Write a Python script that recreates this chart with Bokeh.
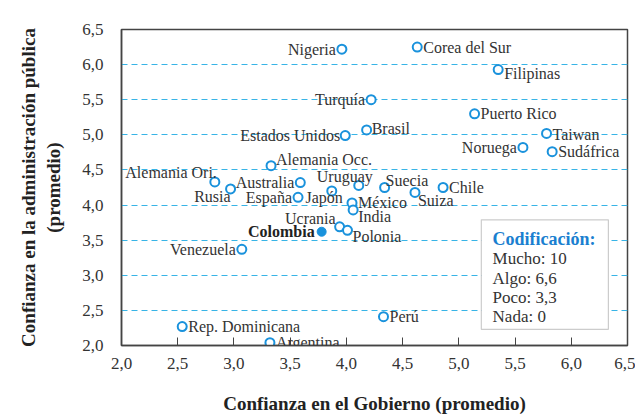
from bokeh.plotting import figure
from bokeh.models import ColumnDataSource, FixedTicker, Label, BoxAnnotation, LabelSet
from bokeh.embed import file_html
from bokeh.resources import INLINE

# Data
countries = ["Nigeria", "Corea del Sur", "Filipinas", "Turquía", "Puerto Rico", "Brasil",
             "Estados Unidos", "Taiwan", "Noruega", "Sudáfrica", "Alemania Occ.", "Alemania Ori.",
             "Rusia", "Australia", "Uruguay", "España", "Japón", "México", "India", "Suecia",
             "Suiza", "Chile", "Ucrania", "Polonia", "Venezuela", "Rep. Dominicana",
             "Argentina", "Perú"]
gobierno = [3.96, 4.63, 5.35, 4.22, 5.14, 4.18, 3.99, 5.78, 5.57, 5.83, 3.33, 2.83,
            2.97, 3.59, 4.11, 3.57, 3.87, 4.05, 4.06, 4.34, 4.61, 4.86, 3.94, 4.01,
            3.07, 2.54, 3.32, 4.33]
administracion = [6.22, 6.25, 5.93, 5.50, 5.30, 5.07, 4.99, 5.02, 4.82, 4.76, 4.56, 4.33,
                  4.23, 4.32, 4.28, 4.11, 4.20, 4.03, 3.93, 4.25, 4.18, 4.25, 3.69, 3.64,
                  3.37, 2.27, 2.04, 2.41]
# label placement (offsets in screen px, alignment)
label_dx = [-6, 6, 6, -6, 6, 5, -5, 6, -6, 6, 5, 2, 0, -6, 14, -6, 11, 6, 5, 1, 3, 6, -4, 5, -6, 6, 6, 6]
label_dy = [0, 0, -4, 0, 0, 1, 0, -1, 0, 0, 6, 9, -8, 0, 9, 0, -6, 0, -7, 7, -8, 0, 8, -6, 0, 0, 0, 0]
label_align = ["right", "left", "left", "right", "left", "left", "right", "left", "right", "left",
               "left", "right", "right", "right", "right", "right", "right", "left", "left", "left",
               "left", "left", "right", "left", "right", "left", "left", "left"]

colombia_x = [3.78]
colombia_y = [3.62]

ticks = [2.0, 2.5, 3.0, 3.5, 4.0, 4.5, 5.0, 5.5, 6.0, 6.5]
tick_labels = ["2,0", "2,5", "3,0", "3,5", "4,0", "4,5", "5,0", "5,5", "6,0", "6,5"]
legend_lines = ["Mucho: 10", "Algo: 6,6", "Poco: 3,3", "Nada: 0"]

BLUE = "#1a92dc"
GRID = "#38b4e6"
FONT = "Liberation Serif"

p = figure(width=635, height=416, x_range=(2.0, 6.5), y_range=(2.0, 6.5),
           output_backend="svg", toolbar_location=None,
           min_border_left=121, min_border_right=8, min_border_top=29, min_border_bottom=71)

p.outline_line_color = "#444444"
p.outline_line_width = 1.5
p.background_fill_color = "white"

p.xgrid.grid_line_color = None
p.ygrid.ticker = FixedTicker(ticks=[2.5, 3.0, 3.5, 4.0, 4.5, 5.0, 5.5, 6.0])
p.ygrid.grid_line_color = GRID
p.ygrid.grid_line_dash = "6 4"
p.ygrid.grid_line_width = 1.2

for ax in (p.xaxis[0], p.yaxis[0]):
    ax.ticker = FixedTicker(ticks=ticks)
    ax.major_label_overrides = {t: l for t, l in zip(ticks, tick_labels)}
    ax.major_label_text_font = FONT
    ax.major_label_text_font_size = "17px"
    ax.major_label_text_color = "#333333"
    ax.axis_line_color = "#444444"
    ax.axis_line_width = 1.5
    ax.minor_tick_line_color = None
    ax.axis_label_text_font = FONT
    ax.axis_label_text_font_style = "bold"
    ax.axis_label_text_font_size = "19px"
    ax.axis_label_text_color = "#222222"

p.xaxis.major_tick_in = 8
p.xaxis.major_tick_out = 0
p.xaxis.major_tick_line_color = "#444444"
p.xaxis.major_label_standoff = 12
p.xaxis.axis_label = "Confianza en el Gobierno (promedio)"
p.xaxis.axis_label_standoff = 21

p.yaxis.major_tick_in = 0
p.yaxis.major_tick_out = 0
p.yaxis.major_label_standoff = 18
p.yaxis.axis_label = "Confianza en la administración pública\n(promedio)"
p.yaxis.axis_label_standoff = 15

src = ColumnDataSource(dict(x=gobierno, y=administracion, name=countries,
                            dx=label_dx, dy=label_dy, align=label_align))
p.scatter("x", "y", source=src, size=9, fill_color="white", line_color=BLUE, line_width=2)
p.scatter(colombia_x, colombia_y, size=9, fill_color=BLUE, line_color=BLUE, line_width=1)

labels = LabelSet(x="x", y="y", text="name", x_offset="dx", y_offset="dy", source=src,
                  text_align="align", text_baseline="middle", text_font=FONT,
                  text_font_size="16px", text_color="#333333")
p.add_layout(labels)

p.add_layout(Label(x=colombia_x[0], y=colombia_y[0], x_offset=-7, text="Colombia",
                   text_align="right", text_baseline="middle", text_font=FONT,
                   text_font_size="16px", text_font_style="bold", text_color="#222222"))

# Legend box (Codificación)
p.add_layout(BoxAnnotation(left=5.20, right=6.33, bottom=2.23, top=3.79,
                           fill_color="white", fill_alpha=1.0,
                           line_color="#555555", line_width=1.2))
p.add_layout(Label(x=5.30, y=3.51, text="Codificación:", text_align="left",
                   text_baseline="middle", text_font=FONT, text_font_size="18px",
                   text_font_style="bold", text_color="#1a7fd0"))
for i, line in enumerate(legend_lines):
    p.add_layout(Label(x=5.30, y=3.51, y_offset=-(i + 1) * 19.3, text=line,
                       text_align="left", text_baseline="middle", text_font=FONT,
                       text_font_size="17px", text_color="#333333"))

open("out.html", "w").write(file_html(p, INLINE))
